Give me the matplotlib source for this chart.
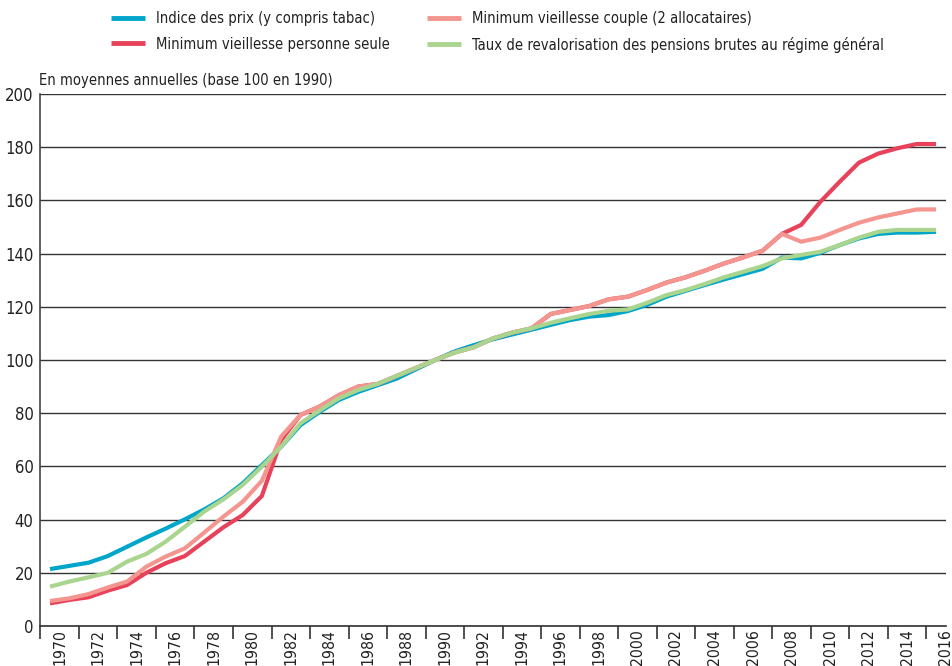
import matplotlib
matplotlib.use("Agg")
import matplotlib.pyplot as plt
from matplotlib import font_manager as fm

years = list(range(1970, 2017))

indice_prix = [21.4, 22.6, 23.8, 26.3, 29.8, 33.3, 36.6, 40.1, 43.8, 48.0,
               53.6, 60.5, 67.4, 75.5, 80.5, 85.0, 88.0, 90.5, 93.0, 96.5,
               100.0, 103.2, 105.6, 107.8, 109.6, 111.4, 113.2, 115.0, 116.3, 116.9,
               118.4, 120.7, 123.8, 126.0, 128.2, 130.3, 132.3, 134.3, 138.5, 138.2,
               140.3, 143.2, 145.7, 147.4, 147.9, 147.9, 148.2]

min_seule = [8.5, 9.8, 10.8, 13.3, 15.4, 20.0, 23.6, 26.3, 31.7, 37.1,
             41.7, 48.9, 69.9, 79.3, 82.5, 86.8, 90.0, 91.0, 94.0, 97.0,
             100.0, 102.8, 104.8, 108.1, 110.3, 111.9, 117.3, 118.8, 120.3, 122.8,
             123.8, 126.3, 129.1, 131.1, 133.6, 136.3, 138.6, 141.1, 147.4, 150.8,
             159.5, 167.0, 174.2, 177.6, 179.6, 181.2, 181.2]

min_couple = [9.4, 10.4, 12.0, 14.5, 16.7, 22.3, 26.1, 29.2, 35.1, 41.1,
              46.7, 54.6, 71.2, 79.3, 82.5, 86.8, 90.0, 91.0, 94.0, 97.0,
              100.0, 102.8, 104.8, 108.1, 110.3, 111.9, 117.3, 118.8, 120.3, 122.8,
              123.8, 126.3, 129.1, 131.1, 133.6, 136.3, 138.6, 141.1, 147.4, 144.5,
              146.0, 148.9, 151.6, 153.6, 155.1, 156.6, 156.6]

taux_pensions = [14.8, 16.7, 18.3, 20.0, 24.2, 27.1, 31.7, 37.3, 43.0, 47.6,
                 53.0, 59.9, 67.4, 76.2, 81.0, 85.6, 88.7, 91.0, 94.0, 97.0,
                 100.0, 102.8, 104.8, 108.1, 110.3, 111.9, 114.0, 115.7, 117.3, 118.5,
                 119.0, 121.5, 124.4, 126.3, 128.6, 131.1, 133.2, 135.3, 138.2, 139.5,
                 140.7, 143.2, 146.0, 148.2, 148.9, 148.9, 148.9]

labels = ["Indice des prix (y compris tabac)",
          "Minimum vieillesse personne seule",
          "Minimum vieillesse couple (2 allocataires)",
          "Taux de revalorisation des pensions brutes au régime général"]
colors = ["#00A6C9", "#E8425B", "#F5958F", "#A9D58F"]
yticks = list(range(0, 201, 20))
xtick_labels = [str(y) for y in range(1970, 2017, 2)]

# ---- pick a condensed font if one is installed ----
def find_condensed():
    best = None
    for f in fm.fontManager.ttflist:
        name = f.name.lower()
        path = f.fname.lower()
        cond = ('condensed' in name or 'narrow' in name or
                'condensed' in str(f.stretch).lower() or
                'condensed' in path or 'narrow' in path)
        if not cond:
            continue
        if 'semi' in path or 'extra' in path or 'ultra' in path:
            rank = 2
        else:
            rank = 0
        w = f.weight if isinstance(f.weight, int) else 400
        if w != 400 or f.style != 'normal':
            rank += 5
        if best is None or rank < best[0]:
            best = (rank, f.fname)
    return best[1] if best else None

cpath = find_condensed()
if cpath:
    def FP(size):
        return fm.FontProperties(fname=cpath, size=size)
    scale = 1.0
else:
    def FP(size):
        return fm.FontProperties(family='DejaVu Sans', size=size)
    scale = 0.85

fig = plt.figure(figsize=(9.52, 6.66), dpi=100)
ax = fig.add_axes([40.4/952, 40/666, 905.2/952, 532/666])

series = [indice_prix, min_seule, min_couple, taux_pensions]
lines = []
for s, c, l, z in zip(series, colors, labels, [2, 3, 4, 5]):
    ln, = ax.plot(years, s, color=c, lw=3.0, label=l, zorder=z,
                  solid_joinstyle='miter', solid_capstyle='butt')
    lines.append(ln)

ax.set_xlim(1969.5, 2016.5)
ax.set_ylim(0, 200)
ax.set_yticks(yticks)
ax.set_yticklabels([str(v) for v in yticks], color="#222222")
for t in ax.get_yticklabels():
    t.set_fontproperties(FP(12 * scale))
ax.tick_params(axis='y', length=0, pad=5)
ax.yaxis.grid(True, color="#333333", lw=1.0, zorder=1)
ax.set_axisbelow(True)

major = [y - 0.5 for y in range(1970, 2017, 2)]
ax.set_xticks(major)
ax.set_xticklabels([])
ax.set_xticks([y + 0.5 for y in range(1970, 2017, 2)], minor=True)
ax.set_xticklabels(xtick_labels, minor=True, rotation=90, color="#222222")
for t in ax.get_xticklabels(minor=True):
    t.set_fontproperties(FP(11.3 * scale))
ax.tick_params(axis='x', which='major', length=9, width=1.2, color="#333333", direction='out')
ax.tick_params(axis='x', which='minor', length=0, pad=2)

for sp in ['top', 'right']:
    ax.spines[sp].set_visible(False)
ax.spines['left'].set_color("#444444")
ax.spines['left'].set_linewidth(1.2)
ax.spines['bottom'].set_color("#333333")
ax.spines['bottom'].set_linewidth(1.2)

ax.text(-0.002, 1.012, "En moyennes annuelles (base 100 en 1990)", transform=ax.transAxes,
        ha='left', va='bottom', color="#222222", fontproperties=FP(10.6 * scale))

legprop = FP(10.6 * scale)
leg1 = fig.legend(handles=lines[:2], labels=labels[:2], loc='upper left',
                  bbox_to_anchor=(111/952, 1 - 11/666), frameon=False, prop=legprop,
                  handlelength=2.3, handletextpad=0.75, labelspacing=0.72, borderpad=0,
                  borderaxespad=0)
leg2 = fig.legend(handles=lines[2:], labels=labels[2:], loc='upper left',
                  bbox_to_anchor=(427/952, 1 - 11/666), frameon=False, prop=legprop,
                  handlelength=2.3, handletextpad=0.75, labelspacing=0.72, borderpad=0,
                  borderaxespad=0)
for lg in (leg1, leg2):
    for t in lg.get_texts():
        t.set_color("#222222")
    for h in lg.get_lines():
        h.set_linewidth(3.5)

fig.savefig("out.png", dpi=100)
